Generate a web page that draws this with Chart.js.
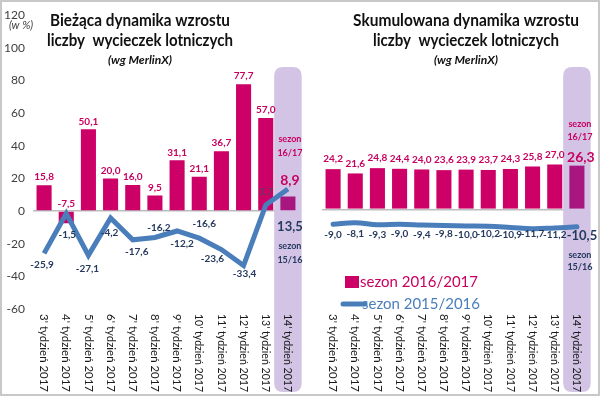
<!DOCTYPE html>
<html>
<head>
<meta charset="utf-8">
<script src="https://cdn.jsdelivr.net/npm/chart.js@4.4.0/dist/chart.umd.min.js"></script>
<style>
  html, body { margin: 0; padding: 0; background: #fff; }
  #frame { position: absolute; left: 0; top: 0; width: 596px; height: 392px; border: 2px solid #c8c8c8; }
  #leftBox { position: absolute; left: 0; top: 0; width: 308px; height: 396px; }
  #rightBox { position: absolute; left: 305px; top: 0; width: 295px; height: 396px; }
</style>
</head>
<body>
<div id="frame"></div>
<div id="leftBox"><canvas id="currentChart" width="308" height="396"></canvas></div>
<div id="rightBox"><canvas id="cumulChart" width="295" height="396"></canvas></div>
<script>
// --- Dane ---
const weeks = ["3' tydzień 2017", "4' tydzień 2017", "5' tydzień 2017", "6' tydzień 2017",
  "7' tydzień 2017", "8' tydzień 2017", "9' tydzień 2017", "10' tydzień 2017",
  "11' tydzień 2017", "12' tydzień 2017", "13' tydzień 2017", "14' tydzień 2017"];

// bieżąca dynamika (w %)
const current1617 = [15.8, -7.5, 50.1, 20.0, 16.0, 9.5, 31.1, 21.1, 36.7, 77.7, 57.0, 8.9];
const current1516 = [-25.9, -1.5, -27.1, -4.2, -17.6, -16.2, -12.2, -16.6, -23.6, -33.4, 3.7, 13.5];

// skumulowana dynamika (w %)
const cumul1617 = [24.2, 21.6, 24.8, 24.4, 24.0, 23.6, 23.9, 23.7, 24.3, 25.8, 27.0, 26.3];
const cumul1516 = [-9.0, -8.1, -9.3, -9.0, -9.4, -9.8, -10.0, -10.2, -10.9, -11.7, -11.2, -10.5];

const yMin = -60, yMax = 120, yStep = 20;

// przesunięcia etykiet linii (tylko rozmieszczenie tekstu)
const leftLineLabelShift = [[-2, 11], [1, 21], [-1, 13], [-1, 15], [4, 12], [4, -10],
  [5, 13], [5, -14], [-9, 9], [1, 8], [0, -13], [2, 38]];

const PINK = '#cc0066';
const PINK_LAST = '#a8177f';
const PINK_TEXT = '#c8005f';
const BLUE = '#4a7ebb';
const NAVY = '#253a5e';
const HILITE = '#d3c4e6';
const FONT = 'Lato, "Open Sans", sans-serif';

const fmt = v => v.toFixed(1).replace('.', ',');

function barColors(n) {
  return Array.from({ length: n }, (_, i) => i === n - 1 ? PINK_LAST : PINK);
}

function roundRect(ctx, x, y, w, h, r) {
  ctx.beginPath();
  ctx.moveTo(x + r, y);
  ctx.lineTo(x + w - r, y);
  ctx.quadraticCurveTo(x + w, y, x + w, y + r);
  ctx.lineTo(x + w, y + h - r);
  ctx.quadraticCurveTo(x + w, y + h, x + w - r, y + h);
  ctx.lineTo(x + r, y + h);
  ctx.quadraticCurveTo(x, y + h, x, y + h - r);
  ctx.lineTo(x, y + r);
  ctx.quadraticCurveTo(x, y, x + r, y);
  ctx.closePath();
}

function text(ctx, str, x, y, font, color, align, maxW) {
  ctx.font = font;
  ctx.fillStyle = color;
  ctx.textAlign = align || 'center';
  ctx.textBaseline = 'middle';
  if (maxW) ctx.fillText(str, x, y, maxW); else ctx.fillText(str, x, y);
}

// podświetlenie ostatniego tygodnia
const highlightPlugin = {
  id: 'highlight',
  beforeDatasetsDraw(chart) {
    const ctx = chart.ctx;
    const xs = chart.scales.x;
    const last = weeks.length - 1;
    const cx = xs.getPixelForValue(last);
    const half = (xs.getPixelForValue(1) - xs.getPixelForValue(0)) * 0.62;
    ctx.save();
    ctx.fillStyle = HILITE;
    roundRect(ctx, cx - half, 67, half * 2, 325, 9);
    ctx.fill();
    ctx.restore();
  }
};

// etykiety osi X pionowo (czytane z góry na dół)
const weekLabelsPlugin = {
  id: 'weekLabels',
  afterDraw(chart) {
    const ctx = chart.ctx;
    const xs = chart.scales.x;
    ctx.save();
    weeks.forEach((w, i) => {
      ctx.save();
      ctx.translate(xs.getPixelForValue(i), 314);
      ctx.rotate(Math.PI / 2);
      text(ctx, w, 0, 0, '12px ' + FONT, '#1a1a1a', 'left', 78);
      ctx.restore();
    });
    ctx.restore();
  }
};

function titleLines(ctx, cx, lines) {
  text(ctx, lines[0], cx, 21, 'bold 17px ' + FONT, '#111', 'center', lines[3]);
  text(ctx, lines[1], cx, 41, 'bold 17px ' + FONT, '#111', 'center', lines[4]);
  text(ctx, lines[2], cx, 60, 'italic bold 12px ' + FONT, '#111', 'center', 68);
}

const baseOptions = {
  responsive: false,
  animation: false,
  plugins: { legend: { display: false }, tooltip: { enabled: false } },
};

function yScale(showTicks, width) {
  return {
    min: yMin, max: yMax,
    ticks: { display: showTicks, stepSize: yStep, padding: 8, color: '#404040', font: { family: FONT, size: 12 } },
    grid: { drawTicks: false, color: c => c.tick && c.tick.value === 0 ? '#bdbdbd' : 'rgba(0,0,0,0)', lineWidth: 1.5 },
    border: { display: false },
    afterFit: s => { s.width = width; }
  };
}

// 1. Bieżąca dynamika
new Chart(document.getElementById('currentChart'), {
  type: 'bar',
  data: {
    labels: weeks,
    datasets: [
      { type: 'line', label: 'sezon 2015/2016', data: current1516, borderColor: BLUE, borderWidth: 5,
        pointRadius: 0, tension: 0, order: 1 },
      { type: 'bar', label: 'sezon 2016/2017', data: current1617, backgroundColor: barColors(weeks.length),
        categoryPercentage: 1, barPercentage: 0.68, order: 2 }
    ]
  },
  options: {
    ...baseOptions,
    layout: { padding: { top: 10, right: 9, bottom: 87, left: 0 } },
    scales: { x: { display: false }, y: yScale(true, 33) }
  },
  plugins: [highlightPlugin, weekLabelsPlugin, {
    id: 'currentLabels',
    afterDraw(chart) {
      const ctx = chart.ctx;
      const lineMeta = chart.getDatasetMeta(0).data;
      const barMeta = chart.getDatasetMeta(1).data;
      const last = weeks.length - 1;
      ctx.save();
      barMeta.forEach((b, i) => {
        const top = Math.min(b.y, b.base);
        if (i === last) {
          text(ctx, fmt(current1617[i]), b.x + 2, top - 16, 'bold 14px ' + FONT, PINK_TEXT);
          text(ctx, 'sezon', b.x + 2, top - 57, 'bold 9px ' + FONT, PINK_TEXT);
          text(ctx, '16/17', b.x + 2, top - 43, 'bold 9px ' + FONT, PINK_TEXT);
        } else {
          text(ctx, fmt(current1617[i]), b.x, top - 8, 'bold 10px ' + FONT, PINK_TEXT);
        }
      });
      lineMeta.forEach((p, i) => {
        const s = leftLineLabelShift[i];
        if (i === last) {
          text(ctx, fmt(current1516[i]), p.x + s[0], p.y + s[1], 'bold 13px ' + FONT, NAVY);
          text(ctx, 'sezon', p.x + s[0], p.y + 57, 'bold 9px ' + FONT, NAVY);
          text(ctx, '15/16', p.x + s[0], p.y + 71, 'bold 9px ' + FONT, NAVY);
        } else {
          text(ctx, fmt(current1516[i]), p.x + s[0], p.y + s[1], 'bold 10px ' + FONT, i === 10 ? '#6b3a5a' : NAVY);
        }
      });
      text(ctx, '(w %)', 9, 25, 'italic 11px ' + FONT, '#404040', 'left');
      titleLines(ctx, 140, ['Bieżąca dynamika wzrostu', 'liczby  wycieczek lotniczych', '(wg MerlinX)', 180, 186]);
      ctx.restore();
    }
  }]
});

// 2. Skumulowana dynamika
new Chart(document.getElementById('cumulChart'), {
  type: 'bar',
  data: {
    labels: weeks,
    datasets: [
      { type: 'line', label: 'sezon 2015/2016', data: cumul1516, borderColor: BLUE, borderWidth: 5,
        pointRadius: 0, tension: 0.4, borderCapStyle: 'round', order: 1 },
      { type: 'bar', label: 'sezon 2016/2017', data: cumul1617, backgroundColor: barColors(weeks.length),
        categoryPercentage: 1, barPercentage: 0.68, order: 2 }
    ]
  },
  options: {
    ...baseOptions,
    layout: { padding: { top: 10, right: 12, bottom: 87, left: 0 } },
    scales: { x: { display: false }, y: yScale(false, 17) }
  },
  plugins: [highlightPlugin, weekLabelsPlugin, {
    id: 'cumulLabels',
    afterDraw(chart) {
      const ctx = chart.ctx;
      const lineMeta = chart.getDatasetMeta(0).data;
      const barMeta = chart.getDatasetMeta(1).data;
      const last = weeks.length - 1;
      ctx.save();
      barMeta.forEach((b, i) => {
        if (i === last) {
          text(ctx, fmt(cumul1617[i]), b.x + 4, b.y - 8, 'bold 14px ' + FONT, PINK_TEXT);
          text(ctx, 'sezon', b.x + 3, b.y - 42, 'bold 9px ' + FONT, PINK_TEXT);
          text(ctx, '16/17', b.x + 3, b.y - 29, 'bold 9px ' + FONT, PINK_TEXT);
        } else {
          text(ctx, fmt(cumul1617[i]), b.x, b.y - 10, 'bold 10px ' + FONT, PINK_TEXT);
        }
      });
      const ys = chart.scales.y;
      const labelY = ys.getPixelForValue(-15.5);
      lineMeta.forEach((p, i) => {
        if (i === last) {
          text(ctx, fmt(cumul1516[i]), p.x + 5, labelY + 1, 'bold 13px ' + FONT, NAVY);
          text(ctx, 'sezon', p.x + 3, labelY + 20, 'bold 9px ' + FONT, NAVY);
          text(ctx, '15/16', p.x + 3, labelY + 32, 'bold 9px ' + FONT, NAVY);
        } else {
          text(ctx, fmt(cumul1516[i]), p.x, labelY + (i % 2 === 0 ? 0 : -1), 'bold 10px ' + FONT, NAVY);
        }
      });
      // legenda
      ctx.fillStyle = PINK;
      ctx.fillRect(40, 276, 14, 12);
      text(ctx, 'sezon 2016/2017', 55, 282, '16px ' + FONT, PINK_TEXT, 'left', 118);
      ctx.strokeStyle = BLUE;
      ctx.lineWidth = 5;
      ctx.lineCap = 'round';
      ctx.beginPath();
      ctx.moveTo(38, 304);
      ctx.lineTo(60, 304);
      ctx.stroke();
      text(ctx, 'sezon 2015/2016', 57, 304, '16px ' + FONT, BLUE, 'left', 118);
      titleLines(ctx, 161, ['Skumulowana dynamika wzrostu', 'liczby  wycieczek lotniczych', '(wg MerlinX)', 226, 186]);
      ctx.restore();
    }
  }]
});
</script>
</body>
</html>
